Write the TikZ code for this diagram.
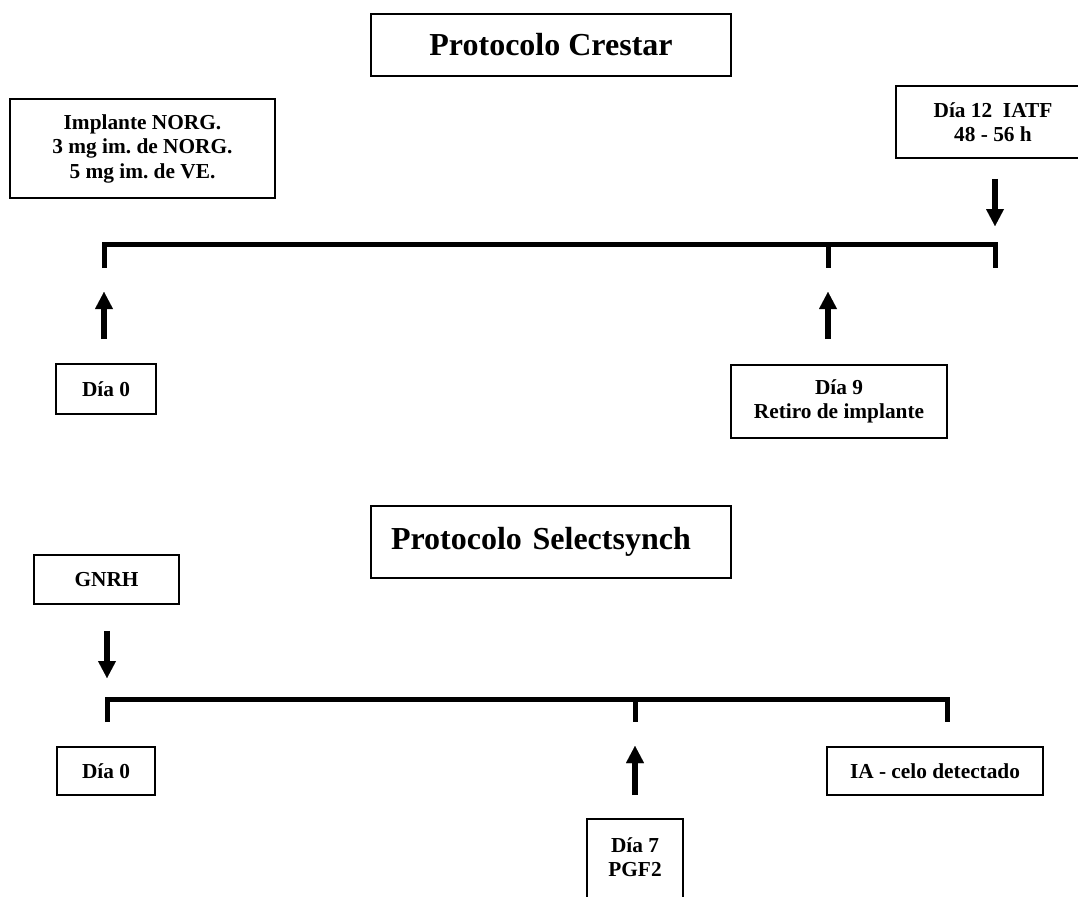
\documentclass[tikz,border=0pt]{standalone}
\usepackage{fontspec}
\setmainfont{Liberation Serif}
\usetikzlibrary{arrows.meta}
\frenchspacing
\begin{document}
\begin{tikzpicture}[x=0.75pt,y=-0.75pt,
  box/.style={draw, line width=1.4pt, inner sep=0pt, align=center, font=\fontsize{16}{18.4}\selectfont\bfseries},
  plaintext/.style={inner sep=0pt, align=center, font=\fontsize{16}{18.4}\selectfont\bfseries},
  titlebox/.style={draw, line width=1.4pt, inner sep=0pt, font=\fontsize{24}{28}\selectfont\bfseries},
  tline/.style={line width=3.75pt, line join=miter, line cap=butt},
  bigarrow/.style={line width=4.5pt, line cap=butt, -{Triangle[width=13.5pt,length=12.75pt,line width=0.01pt]}}
]
\clip (0,0) rectangle (1078,896);
\fill[white] (0,0) rectangle (1078,896);

% ---------- Protocolo Crestar ----------
\node[titlebox, minimum width=270pt, minimum height=46.5pt] (t1box) at (551,45) {Protocolo Crestar};
\node[box, minimum width=198.75pt, minimum height=74.25pt] (impl) at (142.5,148.5) {Implante NORG.\\3 mg im. de NORG.\\5 mg im. de VE.};
\node[box, minimum width=145.5pt, minimum height=54pt] (d12) at (993,122) {Día 12~ IATF\\48 - 56 h};
\node[box, minimum width=75pt, minimum height=37.5pt] (d0a) at (106,389) {Día 0};
\node[box, minimum width=162pt, minimum height=54.75pt] (d9) at (839,401.5) {Día 9\\Retiro de implante};

\coordinate (a1) at (104,244);
\coordinate (a1b) at (104,268);
\coordinate (a2) at (828,244);
\coordinate (a2b) at (828,268);
\coordinate (a3) at (995,244);
\coordinate (a3b) at (995,268);

\draw[tline] (a1b) -- (a1) -- (a3) -- (a3b);
\draw[tline] (a2) -- (a2b);

\draw[bigarrow, shorten <=15pt, shorten >=13.5pt] (d12.south -| a3) -- (a3);
\draw[bigarrow, shorten <=18pt, shorten >=18pt] (d0a.north -| a1) -- (a1b);
\draw[bigarrow, shorten <=18.75pt, shorten >=18pt] (d9.north -| a2) -- (a2b);

% ---------- Protocolo Selectsynch ----------
\node[titlebox, inner xsep=15pt, text width=240pt, align=left, minimum height=54pt] (t2box) at (551,542) {Protocolo Selectsynch};
\node[box, minimum width=108.75pt, minimum height=36.75pt] (gnrh) at (106.5,579.5) {GNRH};
\node[box, minimum width=73.5pt, minimum height=36pt] (d0b) at (106,771) {Día 0};
\node[box, minimum width=162pt, minimum height=36pt] (ia) at (935,771) {IA - celo detectado};
\node[draw, line width=1.4pt, inner sep=0pt, minimum width=72pt, minimum height=91.5pt, anchor=north] (d7box) at (635,818) {};
\node[plaintext] (d7) at (635,857) {Día 7\\PGF2};

\coordinate (b1) at (107,699);
\coordinate (b1b) at (107,722);
\coordinate (b2) at (635,699);
\coordinate (b2b) at (635,722);
\coordinate (b3) at (947,699);
\coordinate (b3b) at (947,722);

\draw[tline] (b1b) -- (b1) -- (b3) -- (b3b);
\draw[tline] (b2) -- (b2b);

\draw[bigarrow, shorten <=19.5pt, shorten >=15.75pt] (gnrh.south -| b1) -- (b1);
\draw[bigarrow, shorten <=17.25pt, shorten >=18pt] (d7box.north) -- (b2b);
\end{tikzpicture}
\end{document}
